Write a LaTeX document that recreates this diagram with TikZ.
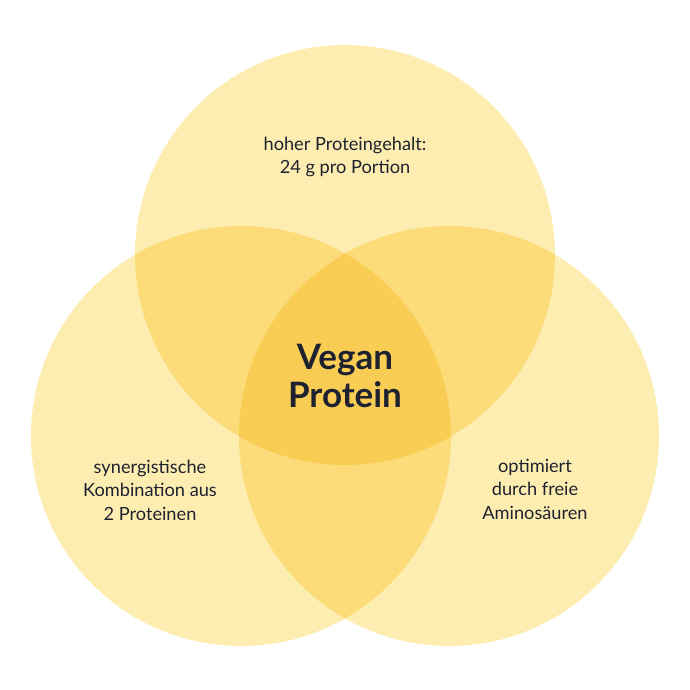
\documentclass[tikz,border=0pt]{standalone}
\usepackage{fontspec}
\setmainfont{Lato}
\usepackage{tikz}
\usetikzlibrary{positioning}
\definecolor{Venn_Light}{HTML}{FDEDB0}
\definecolor{Venn_Mid}{HTML}{FBDC79}
\definecolor{Venn_Dark}{HTML}{F9CD54}
\definecolor{Venn_Text}{HTML}{1E2230}

\begin{document}
\begin{tikzpicture}[
  x=1pt, y=-1pt,
  every node/.style={text=Venn_Text, align=center},
  label/.style={font=\fontsize{18.2}{23.5}\selectfont},
  title/.style={font=\fontsize{35}{38}\selectfont\bfseries}
]
  \useasboundingbox (0,0) rectangle (690,690);

  % circle centres
  \coordinate (ctop) at (345,255);
  \coordinate (cleft) at (241,436);
  \coordinate (cright) at (449,436);

  % single circles
  \fill[Venn_Light] (ctop) circle (210);
  \fill[Venn_Light] (cleft) circle (210);
  \fill[Venn_Light] (cright) circle (210);

  % pairwise overlaps
  \begin{scope}
    \clip (ctop) circle (210);
    \fill[Venn_Mid] (cleft) circle (210);
    \fill[Venn_Mid] (cright) circle (210);
  \end{scope}
  \begin{scope}
    \clip (cleft) circle (210);
    \fill[Venn_Mid] (cright) circle (210);
  \end{scope}

  % centre overlap
  \begin{scope}
    \clip (ctop) circle (210);
    \clip (cleft) circle (210);
    \fill[Venn_Dark] (cright) circle (210);
  \end{scope}

  % texts
  \node[title] (core) at (345,376) {Vegan\\Protein};
  \node[label] (high) at (345,157) {hoher Proteingehalt:\\24 g pro Portion};
  \node[label] (syn) at (150,490) {synergistische\\Kombination aus\\2 Proteinen};
  \node[label] (opt) at (535,489) {optimiert\\durch freie\\Aminosäuren};
\end{tikzpicture}
\end{document}
